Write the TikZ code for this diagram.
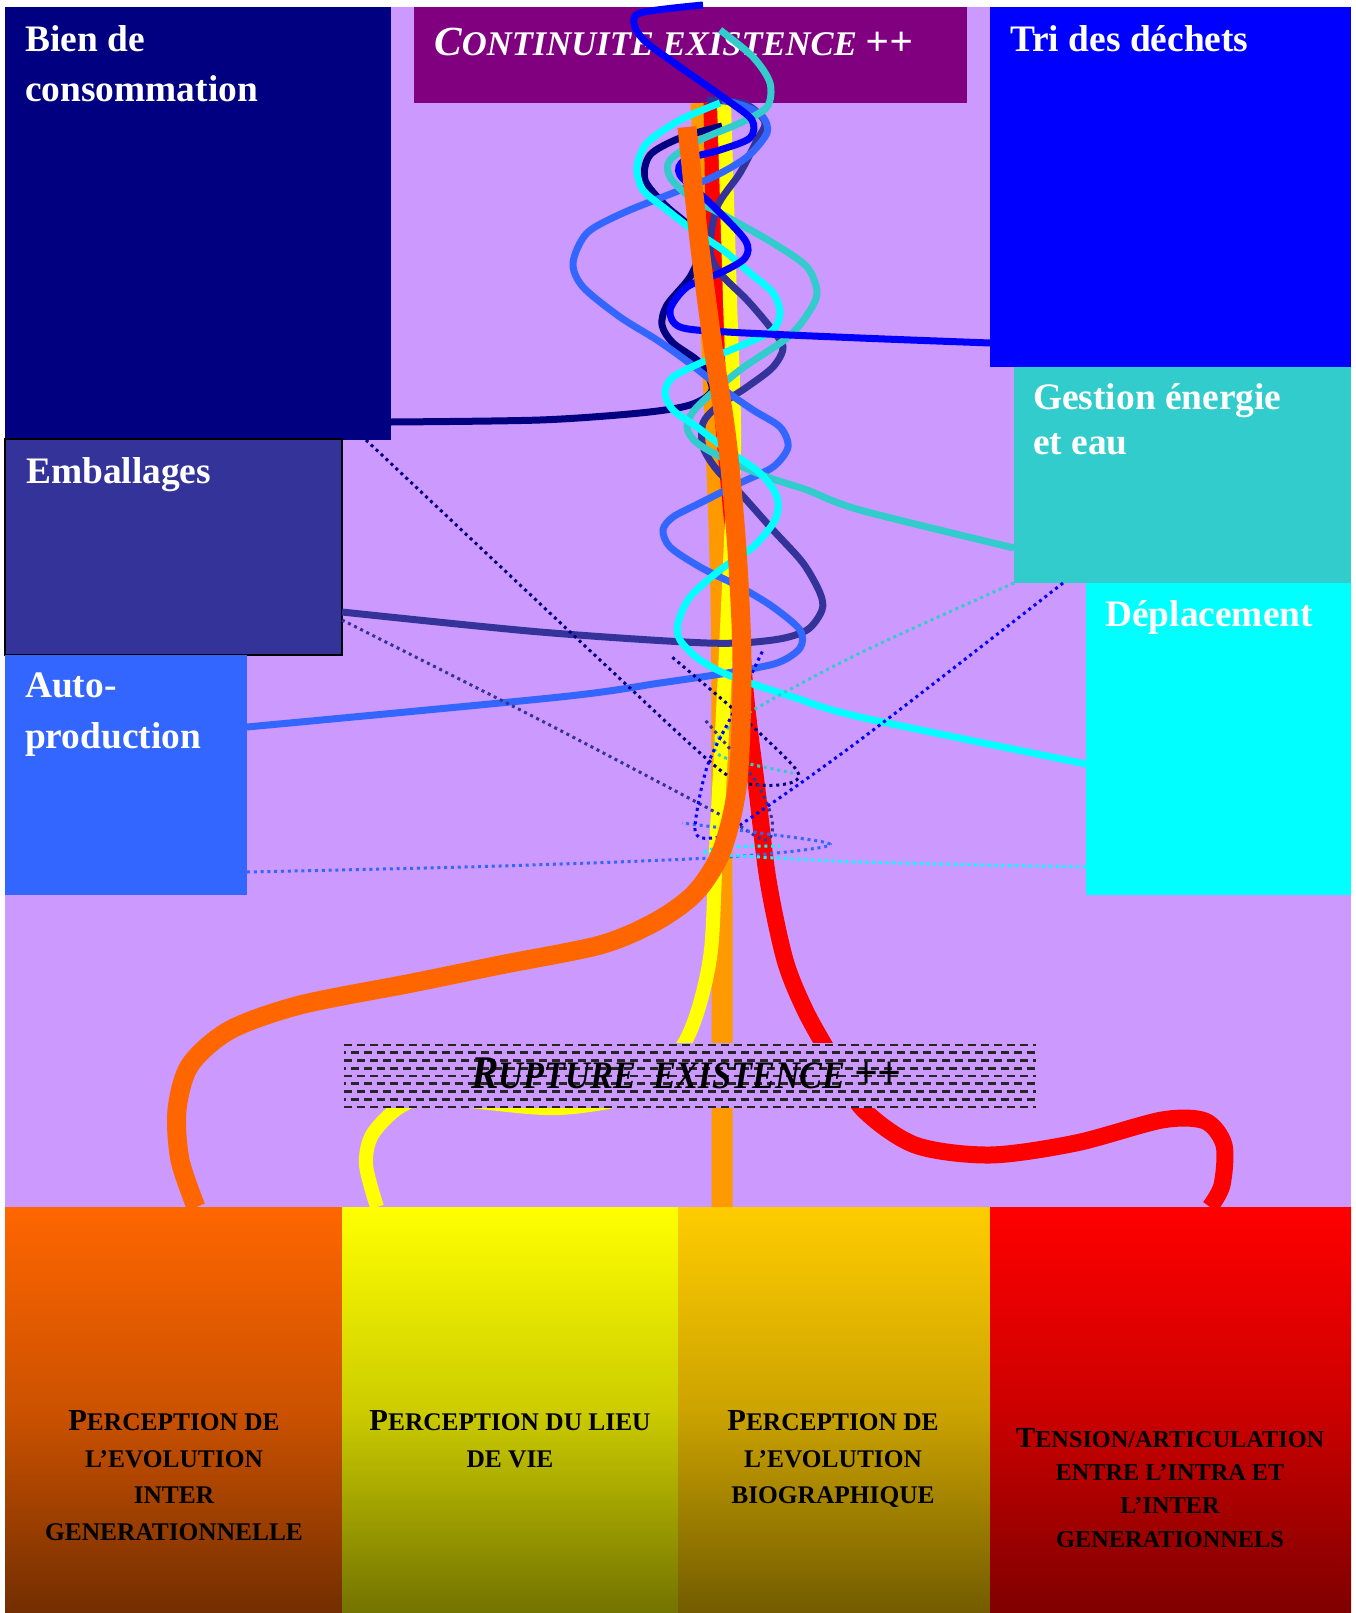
\documentclass[tikz,border=0pt]{standalone}
\usepackage{graphicx,xcolor}
\usepackage{fontspec}
\setmainfont{Liberation Serif}
\definecolor{fondmauve}{RGB}{204,153,255}
\definecolor{continuite}{RGB}{128,0,128}
\definecolor{bienconso}{RGB}{0,0,128}
\definecolor{tridechets}{RGB}{0,0,255}
\definecolor{gestion}{RGB}{51,204,204}
\definecolor{deplace}{RGB}{0,255,255}
\definecolor{emballage}{RGB}{51,51,153}
\definecolor{autoprod}{RGB}{51,102,255}
\definecolor{orbande}{RGB}{255,153,0}
\definecolor{orvif}{RGB}{255,102,0}
\definecolor{jaune}{RGB}{255,255,0}
\definecolor{rouge}{RGB}{255,0,0}
\definecolor{orclair}{RGB}{255,204,0}
\newcommand{\capl}[2][30.5]{{\fontsize{#1}{#1}\selectfont #2}}

\begin{document}
\begin{tikzpicture}[x=1pt, y=-1pt,
    zone/.style={rectangle, inner sep=0pt, outer sep=0pt, anchor=north west},
    lbl/.style={anchor=base west, inner sep=0pt, text=white,
                font=\bfseries\fontsize{37.4}{37.4}\selectfont},
    titre/.style={anchor=base west, inner sep=0pt,
                  font=\bfseries\itshape\fontsize{#1}{#1}\selectfont},
    colbl/.style={anchor=base, inner sep=0pt, text=black,
                  font=\bfseries\fontsize{#1}{#1}\selectfont},
    colbl/.default=25.4,
    fil/.style={line width=7pt},
    bande/.style={line width=#1},
    pointil/.style={line width=3pt, dash pattern=on 3pt off 3.8pt},
    hachure/.style={line width=2.6pt, black!85, dash pattern=on 8pt off 5pt}
  ]
    \useasboundingbox (0,0) rectangle (1356,1613);
    \fill[white] (0,0) rectangle (1356,1613);
    \fill[fondmauve] (5,7) rectangle (1351,1613);

    % Cadres du haut
    \node[zone, fill=bienconso, minimum width=386, minimum height=433] (bien) at (5,7) {};
    \node[zone, fill=continuite, minimum width=553, minimum height=96] (cont) at (414,7) {};
    \node[zone, fill=tridechets, minimum width=361, minimum height=360] (tri) at (990,7) {};
    \node[zone, fill=gestion, minimum width=337, minimum height=216] (gest) at (1014,367) {};
    \node[zone, fill=deplace, minimum width=265, minimum height=312] (depl) at (1086,583) {};
    \node[zone, fill=emballage, draw=black, line width=1.5pt,
          minimum width=337, minimum height=216] (emb) at (5,439) {};
    \node[zone, fill=autoprod, minimum width=242, minimum height=240] (auto) at (5,655) {};

    \node[lbl] (tbien1) at (25,51.5) {Bien de};
    \node[lbl] (tbien2) at (25,101.5) {consommation};
    \node[titre=34.6, text=white] (tcont) at (434,56)
         {\capl[41.4]{C}ONTINUITE EXISTENCE \capl[41.4]{++}};
    \node[lbl] (ttri) at (1010,51.5) {Tri des déchets};
    \node[lbl] (tgest1) at (1033,409.5) {Gestion énergie};
    \node[lbl] (tgest2) at (1033,454) {et eau};
    \node[lbl] (temb) at (26,483.5) {Emballages};
    \node[lbl] (tdepl) at (1105,626) {Déplacement};
    \node[lbl] (tauto1) at (25,697.5) {Auto-};
    \node[lbl] (tauto2) at (25,748.5) {production};

    % Colonnes du bas
    \node[zone, minimum width=337, minimum height=406, top color=orvif,
          bottom color=orvif!45!black, middle color=orvif!80!black] (colA) at (5,1207) {};
    \node[zone, minimum width=336, minimum height=406, top color=jaune,
          bottom color=jaune!45!black, middle color=jaune!80!black] (colB) at (342,1207) {};
    \node[zone, minimum width=312, minimum height=406, top color=orclair,
          bottom color=orclair!45!black, middle color=orclair!80!black] (colC) at (678,1207) {};
    \node[zone, minimum width=361, minimum height=406, top color=rouge,
          bottom color=rouge!50!black, middle color=rouge!80!black] (colD) at (990,1207) {};

    \node[colbl] (ta1) at (174,1430) {\capl{P}ERCEPTION DE};
    \node[colbl] (ta2) at (174,1467) {L’EVOLUTION};
    \node[colbl] (ta3) at (174,1503) {INTER};
    \node[colbl] (ta4) at (174,1540) {GENERATIONNELLE};
    \node[colbl] (tb1) at (510,1430) {\capl{P}ERCEPTION DU LIEU};
    \node[colbl] (tb2) at (510,1467) {DE VIE};
    \node[colbl] (tc1) at (833,1430) {\capl{P}ERCEPTION DE};
    \node[colbl] (tc2) at (833,1467) {L’EVOLUTION};
    \node[colbl] (tc3) at (833,1503) {BIOGRAPHIQUE};
    \node[colbl=24.3] (td1) at (1170,1447) {\capl[29.2]{T}ENSION/ARTICULATION};
    \node[colbl=24.3] (td2) at (1170,1480) {ENTRE L’INTRA ET};
    \node[colbl=24.3] (td3) at (1170,1513) {L’INTER};
    \node[colbl=24.3] (td4) at (1170,1547) {GENERATIONNELS};

    % Points d'attache
    \coordinate (orhaut) at (cont.south -| 701,0);
    \coordinate (orbas) at (colC.north -| 722,0);
    \coordinate (jahaut) at (cont.south -| 724,0);
    \coordinate (jabas) at (colB.north -| 377,0);
    \coordinate (rohaut) at (cont.south -| 712,0);
    \coordinate (robas) at (colD.north -| 1210,0);
    \coordinate (vifhaut) at (687,127);
    \coordinate (vifbas) at (colA.north -| 196,0);
    \coordinate (bienout) at (bien.east |- 0,422);
    \coordinate (bienfin) at (722,126);
    \coordinate (embout) at (emb.east |- 0,612);
    \coordinate (embfin) at (707,100);
    \coordinate (autout) at (auto.east |- 0,727);
    \coordinate (autofin) at (723,100);
    \coordinate (gestout) at (gest.west |- 0,548);
    \coordinate (gestfin) at (720,30);
    \coordinate (deplout) at (depl.west |- 0,764);
    \coordinate (deplfin) at (720,103);
    \coordinate (triout) at (tri.west |- 0,343);
    \coordinate (trifin) at (703,5);

    % Bandes centrales
    \draw[bande=21pt, orbande] plot[smooth] coordinates {(orhaut) (712,350) (721,600) (722,900) (orbas)};
    \draw[bande=17pt, rouge] plot[smooth] coordinates {(rohaut) (715,250) (722,400) (735,550)
        (745,690) (757,790) (768,880) (785,960) (805,1010) (830,1055) (862,1108) (915,1145)
        (990,1155) (1076,1143) (1162,1120) (1205,1121) (1224,1145) (1222,1185) (robas)};
    \draw[bande=14pt, jaune] plot[smooth] coordinates {(jahaut) (730,300) (734,450) (726,650)
        (716,850) (711,950) (698,1010) (680,1050) (640,1093) (560,1108) (480,1102) (430,1096)
        (398,1108) (372,1135) (366,1165) (jabas)};

    % Fils en spirale
    \draw[fil, bienconso] plot[smooth] coordinates {(bienout) (540,420) (640,413) (690,405)
        (712,390) (700,363) (673,343) (662,325) (667,305) (690,277) (700,250) (690,227)
        (665,205) (645,180) (650,155) (680,138) (bienfin)};
    \draw[fil, emballage] plot[smooth] coordinates {(embout) (540,632) (707,643) (773,640)
        (807,630) (822,610) (820,593) (803,563) (773,530) (740,493) (717,470) (703,447)
        (703,423) (717,407) (747,387) (773,367) (783,347) (770,327) (747,300) (720,273)
        (710,250) (717,207) (740,173) (757,140) (765,122) (745,104) (embfin)};
    \draw[fil, autoprod] plot[smooth] coordinates {(autout) (560,697) (660,683) (727,673)
        (777,663) (800,648) (800,630) (773,607) (740,587) (700,567) (670,547) (663,530)
        (673,517) (700,503) (740,483) (773,467) (788,447) (780,427) (753,410) (720,387)
        (688,362) (657,340) (620,317) (583,287) (573,263) (587,233) (623,213) (673,193)
        (713,177) (747,157) (767,133) (763,117) (747,107) (autofin)};
    \draw[fil, gestion] plot[smooth] coordinates {(gestout) (860,510) (807,490) (767,477)
        (727,460) (697,443) (687,427) (697,407) (740,370) (787,338) (807,315) (817,293)
        (807,267) (773,243) (727,217) (690,197) (670,177) (670,160) (700,140) (740,123)
        (767,107) (770,83) (753,57) (gestfin)};
    \draw[fil, deplace] plot[smooth] coordinates {(deplout) (860,717) (793,697) (733,677)
        (700,660) (680,640) (678,623) (690,597) (720,570) (753,547) (775,520) (777,497)
        (760,473) (727,450) (697,427) (673,410) (665,393) (673,377) (707,360) (747,343)
        (773,330) (780,313) (773,293) (750,273) (723,250) (693,230) (667,210) (643,190)
        (637,167) (647,143) (680,120) (deplfin)};
    \draw[fil, tridechets] plot[smooth] coordinates {(triout) (860,338) (727,332) (680,327)
        (670,310) (687,287) (720,273) (745,258) (745,240) (710,203) (680,175) (685,160)
        (720,150) (750,138) (752,120) (727,100) (680,67) (647,43) (635,27) (640,13) (trifin)};

    % Fils pointilles
    \coordinate (pbien) at (bien.south -| 366,0);
    \coordinate (pemb) at (emb.east |- 0,620);
    \coordinate (pauto) at (auto.east |- 0,872);
    \coordinate (pdepl) at (depl.west |- 0,867);
    \coordinate (pgest) at (gest.south west);
    \coordinate (ptri) at (gest.south -| 1063,0);
    \draw[pointil, bienconso] plot[smooth] coordinates {(pbien) (600,660) (720,770) (760,785)
        (793,782) (795,768) (740,715) (672,657)};
    \draw[pointil, emballage] plot[smooth] coordinates {(pemb) (540,720) (717,813) (765,840)
        (772,820) (755,780) (705,720)};
    \draw[pointil, autoprod] plot[smooth] coordinates {(pauto) (500,866) (727,857) (830,845)
        (760,833) (682,823)};
    \draw[pointil, deplace] plot[smooth] coordinates {(pdepl) (860,862) (727,855) (705,852)
        (725,847) (780,846)};
    \draw[pointil, gestion] plot[smooth] coordinates {(pgest) (860,653) (750,712) (717,740)
        (723,757) (793,773)};
    \draw[pointil, tridechets] plot[smooth] coordinates {(ptri) (860,740) (737,827) (712,838)
        (695,830) (707,767) (733,713) (763,650)};

    % Bande orange vif
    \draw[bande=19pt, orvif] plot[smooth] coordinates {(vifhaut) (699,240) (712,340) (727,440)
        (737,550) (742,663) (738,780) (722,850) (695,893) (655,922) (600,945) (500,965)
        (412,983) (300,1005) (230,1030) (190,1065) (177,1110) (180,1160) (vifbas)};

    % Rupture
    \node[zone, fill=fondmauve, minimum width=698, minimum height=65] (rupt) at (341,1043) {};
    \foreach \i in {0,...,8} {
      \ifodd\i \def\ph{6.5pt}\else\def\ph{0pt}\fi
      \draw[hachure, dash phase=\ph] (344,{1045+7.75*\i}) -- (1036,{1045+7.75*\i});
    }
    \node[titre=39, text=black] (trupt) at (471,1088)
         {\scalebox{0.88}[1]{\capl[46.8]{R}UPTURE\ \ EXISTENCE \capl[46.8]{++}}};
\end{tikzpicture}
\end{document}
